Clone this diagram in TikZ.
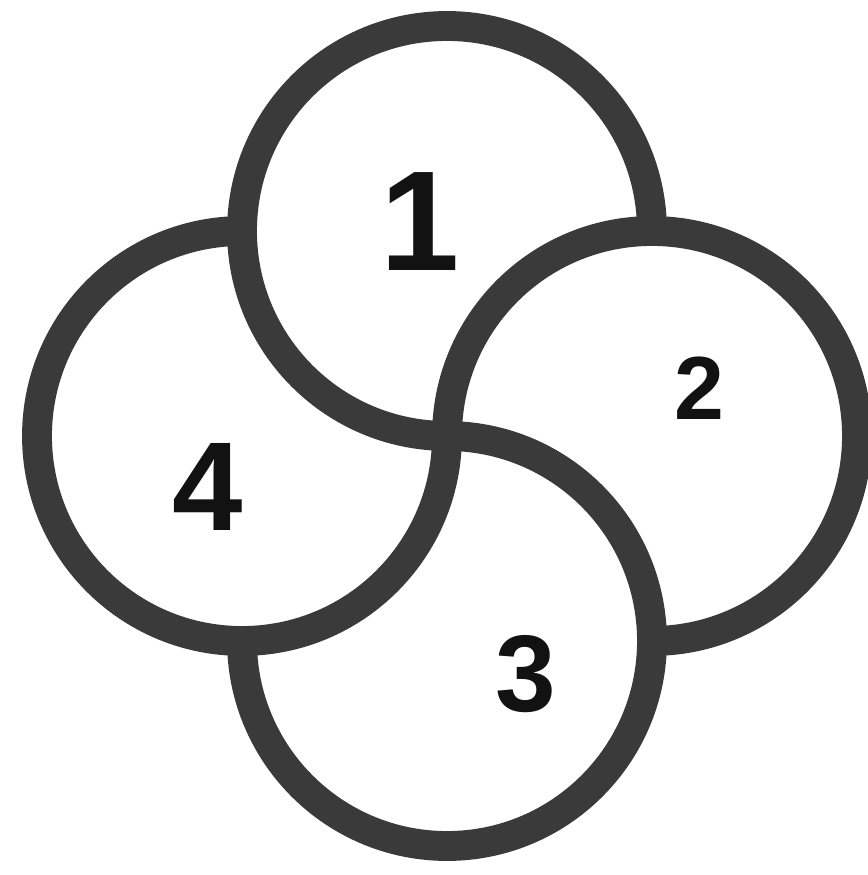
\documentclass[tikz,border=0pt]{standalone}
\usepackage{fontspec}
\setmainfont{Liberation Sans}
\usepackage{xcolor}
\usepackage{tikz}
\definecolor{ringgray}{RGB}{58,58,58}
\definecolor{numblack}{RGB}{18,18,18}

\begin{document}
\begin{tikzpicture}[
  ring/.style={draw=ringgray,line width=17pt,line cap=round},
  num/.style={inner sep=0pt,text=numblack,font=\bfseries}
]
\fill[white] (-8.94,-8.78) rectangle (8.40,8.72);
\useasboundingbox (-8.94,-8.78) rectangle (8.40,8.72);
\coordinate (o) at (0,0);
\coordinate (c1) at (0,4.1);
\coordinate (c2) at (4.1,0);
\coordinate (c3) at (0,-4.1);
\coordinate (c4) at (-4.1,0);
% each ring leaves out the quarter that lies inside the next one
\draw[ring] (c1) ++(0:4.1) arc[start angle=0,end angle=270,radius=4.1];
\draw[ring] (c2) ++(-90:4.1) arc[start angle=-90,end angle=180,radius=4.1];
\draw[ring] (c3) ++(180:4.1) arc[start angle=180,end angle=450,radius=4.1];
\draw[ring] (c4) ++(90:4.1) arc[start angle=90,end angle=360,radius=4.1];
\node[num,font=\bfseries\fontsize{81}{81}\selectfont] (one) at (-0.54,4.28) {1};
\node[num,font=\bfseries\fontsize{51}{51}\selectfont] (two) at (5.04,0.96) {2};
\node[num,font=\bfseries\fontsize{62}{62}\selectfont] (three) at (1.58,-4.76) {3};
\node[num,font=\bfseries\fontsize{72}{72}\selectfont] (four) at (-4.78,-1.02) {4};
\end{tikzpicture}
\end{document}
